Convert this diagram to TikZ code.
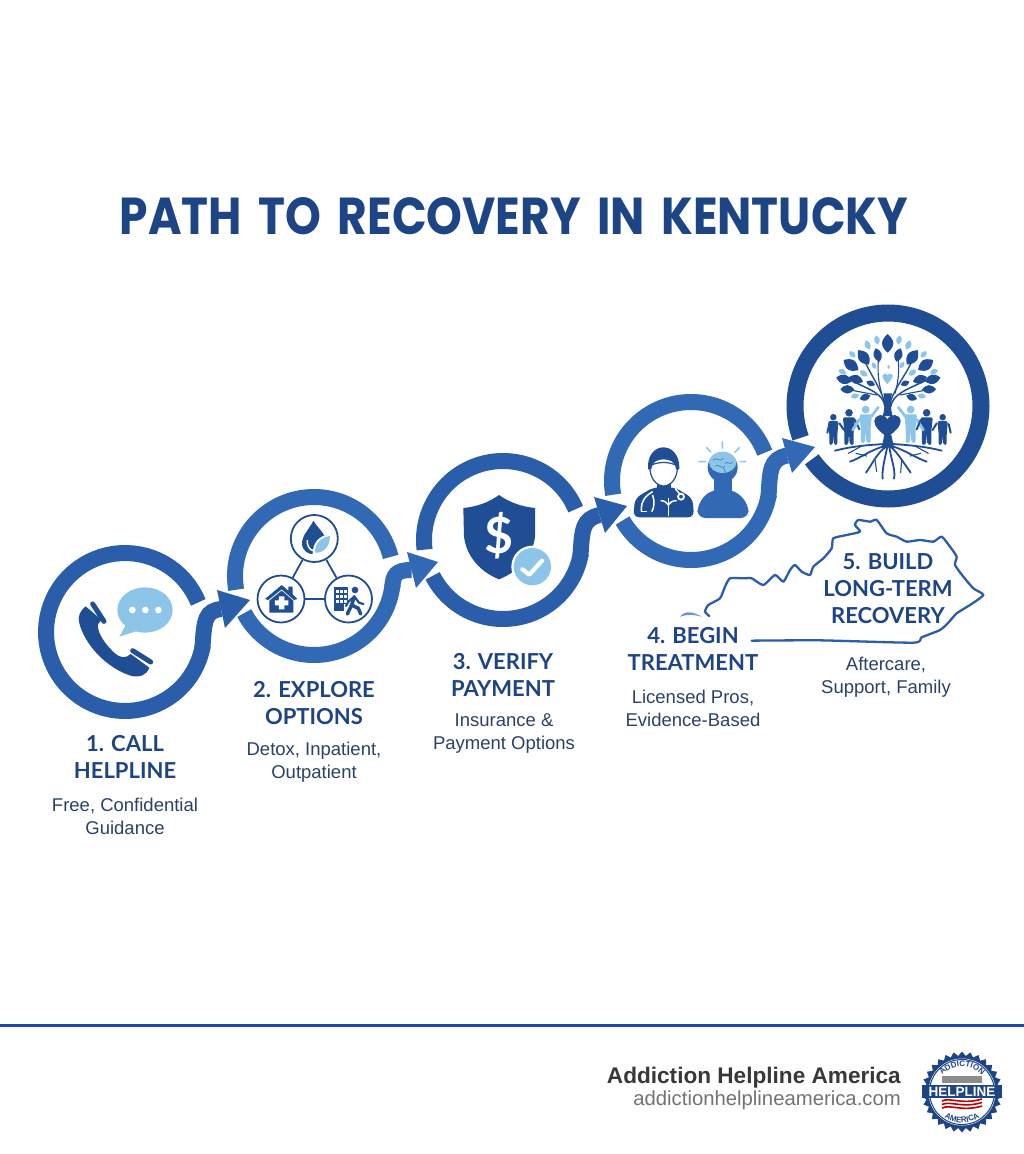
\documentclass[tikz,border=0pt]{standalone}
\usepackage{fontspec}
\usepackage{graphicx}
\usetikzlibrary{calc,shapes.geometric,decorations.text}
\setmainfont{Lato}
\newfontfamily\footfont{Liberation Sans}
\newfontfamily\titlefont{Poppins}[WordSpace=1.7]
\definecolor{navy}{HTML}{1D4485}
\definecolor{deep}{HTML}{1F4E94}
\definecolor{midb}{HTML}{2A5EAB}
\definecolor{liteb}{HTML}{3269B5}
\definecolor{sky}{HTML}{8DC5E9}
\definecolor{subc}{HTML}{2A4268}
\definecolor{rule}{HTML}{2148A8}
\tikzset{
  ringline/.style={line width=16pt,line cap=butt},
  anchorc/.style={circle,inner sep=0pt,draw=none},
  heading/.style={font=\fontsize{22}{27}\selectfont\bfseries,text=navy,align=center,inner sep=0pt},
  subtext/.style={font=\fontsize{18.5}{23}\selectfont\footfont,text=subc,align=center,inner sep=0pt},
  minic/.style={circle,draw=deep,line width=1.8pt,fill=white,minimum size=47pt,inner sep=0pt},
  minil/.style={draw=deep,line width=1.8pt},
  zoomed/.style={x=.33333pt,y=-.33333pt}
}
\newcommand\arcring[6]{\draw[ringline,#1] plot[domain=#5:#6,samples=70,variable=\t] ({#2+#4*cos(\t)},{#3-#4*sin(\t)});}
\newcommand\stepshaft[8]{%
  \coordinate (#2tip) at (#3);\coordinate (#2a) at (#4);\coordinate (#2b) at (#5);
  \draw[ringline,#1] (#6) .. controls (#7) and (#8) .. ($(#2a)!.5!(#2b)$);
  \fill[#1] (#2tip) -- (#2a) -- (#2b) -- cycle;}
\newcommand\leafm[4]{%
  \pgfmathsetmacro\la{atan2(300-#2,#1-353)}%
  \fill[#3,shift={(#1,#2)},rotate=\la] (-#4,0) .. controls (-.3*#4,.8*#4) and (.3*#4,.8*#4) .. (#4,0) .. controls (.3*#4,-.8*#4) and (-.3*#4,-.8*#4) .. cycle;}
\newcommand\personm[4]{% x top h colour
  \pgfmathsetmacro\hh{#3}%
  \fill[#4] (#1,#2+.105*\hh) circle[radius=.105*\hh];
  \fill[#4,rounded corners=2pt] (#1-.17*\hh,#2+.23*\hh) -- (#1+.17*\hh,#2+.23*\hh) -- (#1+.13*\hh,#2+.62*\hh) -- (#1+.13*\hh,#2+\hh) -- (#1+.02*\hh,#2+\hh) -- (#1,#2+.66*\hh) -- (#1-.02*\hh,#2+\hh) -- (#1-.13*\hh,#2+\hh) -- (#1-.13*\hh,#2+.62*\hh) -- cycle;}
\begin{document}
\begin{tikzpicture}[x=1pt,y=-1pt]
\useasboundingbox (0,0) rectangle (1024,1154);
\fill[white] (0,0) rectangle (1024,1154);

% title
\node[text=navy,inner sep=0pt] (title) at (514,216) {\resizebox{788pt}{37pt}{\titlefont\bfseries PATH TO RECOVERY IN KENTUCKY}};

% ring anchors
\node[anchorc,minimum size=158pt] (c1) at (125,632) {};
\node[anchorc,minimum size=158pt] (c2) at (314,576) {};
\node[anchorc,minimum size=158pt] (c3) at (503,540) {};
\node[anchorc,minimum size=158pt] (c4) at (691,481) {};
\node[anchorc,minimum size=186pt] (c5) at (888,406) {};

% rings
\arcring{midb}{125}{632}{79}{22}{350}
\arcring{liteb}{314}{576}{79}{14}{190}
\arcring{liteb}{314}{576}{79}{208}{354}
\arcring{midb}{503}{540}{79}{23}{187}
\arcring{midb}{503}{540}{79}{207}{350}
\arcring{liteb}{691}{481}{79}{21}{190}
\arcring{liteb}{691}{481}{79}{210}{350}
\draw[line width=17pt,deep] plot[domain=215:560,samples=120,variable=\t] ({888+93*cos(\t)},{406-93*sin(\t)});

% arrows between rings
\stepshaft{midb}{h1}{250,600}{217,590}{225,628}{c1.-12}{204,618}{206,611}
\stepshaft{liteb}{h2}{438,562}{407,552}{416,588}{c2.-8}{393,575}{396,570}
\stepshaft{midb}{h3}{627,506}{594,497}{605,533}{c3.-12}{582,528}{583,519}
\stepshaft{liteb}{h4}{815,447}{782,438}{792,473}{c4.-12}{770,470}{770,459}

% ICON 1: phone and bubble
\begin{scope}[shift={(20,480)},zoomed]
  \fill[deep] (197,379) .. controls (180,392) and (172,410) .. (178,430) .. controls (195,495) and (260,565) .. (335,588) .. controls (360,593) and (380,585) .. (388,563) -- (332,522) .. controls (318,536) and (300,534) .. (285,520) .. controls (262,500) and (240,470) .. (235,448) .. controls (230,432) and (238,425) .. (245,420) -- cycle;
  \draw[deep,line width=5pt,line cap=round] (218,372) -- (252,424);
  \draw[deep,line width=5pt,line cap=round] (338,512) -- (392,546);
  \fill[sky] (375,390) ellipse[x radius=83,y radius=68];
  \fill[sky] (320,430) -- (298,470) -- (360,450) -- cycle;
  \fill[white] (337,390) circle[radius=10] (376,390) circle[radius=10] (415,390) circle[radius=10];
\end{scope}

% ICON 2: three options
\node[minic] (m1) at (314.3,538.5) {};
\node[minic] (m2) at (281,599) {};
\node[minic] (m3) at (348.5,599) {};
\draw[minil] (m1) -- (m2);
\draw[minil] (m1) -- (m3);
\draw[minil] (m2) -- (m3);
\begin{scope}[shift={(20,480)},zoomed]
  % droplet and leaf
  \fill[deep] (880,122) .. controls (870,145) and (846,165) .. (846,190) .. controls (846,212) and (865,225) .. (885,222) .. controls (905,215) and (918,190) .. (915,170) .. controls (905,150) and (890,140) .. (880,122) -- cycle;
  \draw[white,line width=1.5pt] (862,180) .. controls (860,195) and (868,210) .. (880,212);
  \fill[white] (878,222) .. controls (878,190) and (895,165) .. (935,162) .. controls (938,195) and (918,225) .. (878,222) -- cycle;
  \fill[sky] (885,218) .. controls (885,192) and (900,172) .. (930,168) .. controls (930,195) and (915,220) .. (885,218) -- cycle;
  % house
  \fill[deep] (735,357) -- (785,315) -- (805,332) -- (805,320) -- (818,320) -- (818,343) -- (832,357) -- (822,360) -- (785,328) -- (745,360) -- cycle;
  \fill[deep] (748,362) -- (785,332) -- (820,362) -- (820,398) -- (748,398) -- cycle;
  \fill[white] (777,349) rectangle (793,388) (765,361) rectangle (805,376);
  % building and walker
  \fill[deep] (942,322) rectangle (985,392);
  \foreach \px in {949,961,973}{\foreach \py in {330,345,360}{\fill[white] (\px,\py) rectangle (\px+7,\py+9);}}
  \fill[white] (972,372) rectangle (990,394);
  \fill[deep] (1005,330) circle[radius=10];
  \draw[deep,line width=3.5pt,line cap=round,line join=round] (1003,350) -- (995,375) -- (982,402);
  \draw[deep,line width=3.5pt,line cap=round,line join=round] (995,375) -- (1015,385) -- (1022,402);
  \draw[deep,line width=2.2pt,line cap=round,line join=round] (1003,350) -- (985,365) -- (978,378);
  \draw[deep,line width=2.2pt,line cap=round,line join=round] (1005,352) -- (1017,368) -- (1030,372);
\end{scope}

% ICON 3: shield
\begin{scope}[shift={(400,380)},zoomed]
  \fill[deep] (297,345) .. controls (265,368) and (230,380) .. (190,384) -- (192,470) .. controls (200,530) and (240,575) .. (297,598) .. controls (355,575) and (398,530) .. (405,470) -- (405,384) .. controls (365,380) and (330,368) .. (297,345) -- cycle;
  \node[text=white,font=\fontsize{50}{50}\selectfont\bfseries,inner sep=0pt] (dollar) at (297,466) {\$};
  \fill[white] (397,560) circle[radius=63];
  \fill[sky] (397,560) circle[radius=56];
  \draw[white,line width=4.2pt,line cap=round,line join=round] (367,568) -- (388,584) -- (426,542);
\end{scope}

% ICON 4: doctor and patient
\begin{scope}[shift={(400,380)},zoomed]
  \fill[deep,rounded corners=6pt] (700,412) -- (705,355) -- (760,322) -- (825,322) -- (878,355) -- (882,412) -- cycle;
  \fill[deep] (770,295) rectangle (812,335);
  \draw[deep,line width=1.2pt,fill=white] (750,258) .. controls (770,244) and (812,244) .. (832,258) .. controls (834,292) and (814,318) .. (791,318) .. controls (768,318) and (748,292) .. (750,258) -- cycle;
  \fill[deep] (744,268) .. controls (738,180) and (842,180) .. (838,268) -- (828,268) .. controls (826,245) and (810,238) .. (791,238) .. controls (772,238) and (756,245) .. (754,268) -- cycle;
  \draw[white,line width=1.5pt] (758,335) .. controls (740,345) and (722,360) .. (724,395);
  \draw[white,line width=1.5pt] (724,395) -- (740,395);
  \draw[white,line width=1.5pt] (758,345) .. controls (765,365) and (762,385) .. (755,395);
  \draw[white,line width=1.5pt] (825,325) -- (842,345);
  \draw[white,line width=1.8pt,fill=deep] (843,350) circle[radius=9];
  \draw[white,line width=1pt] (805,355) -- (805,408);
  \draw[white,line width=1.5pt] (782,362) .. controls (795,362) and (800,368) .. (805,375) .. controls (810,368) and (815,362) .. (830,362);
  \fill[liteb,rounded corners=8pt] (892,414) -- (893,372) -- (930,330) -- (1005,330) -- (1045,372) -- (1046,414) -- cycle;
  \fill[liteb] (968,262) circle[radius=45];
  \fill[liteb] (942,290) rectangle (995,345);
  \fill[sky] (968,247) ellipse[x radius=41,y radius=32];
  \draw[liteb!70!sky,line width=.8pt,line cap=round] (940,240) .. controls (950,228) and (960,250) .. (970,235) (975,250) .. controls (985,240) and (990,260) .. (998,245) (945,258) .. controls (955,250) and (965,268) .. (975,260) (970,262) -- (978,280);
  \draw[sky,line width=1.6pt,line cap=round] (920,203) -- (932,216) (967,185) -- (967,205) (1018,203) -- (1005,217) (897,245) -- (917,245) (1020,245) -- (1037,245);
\end{scope}

% ICON 5: tree, people, roots
\begin{scope}[shift={(770,290)},zoomed]
  \draw[deep,line width=1.5pt,line cap=round] (345,350) .. controls (340,310) and (300,300) .. (245,272);
  \draw[deep,line width=1.4pt,line cap=round] (345,340) .. controls (330,290) and (305,260) .. (285,215);
  \draw[deep,line width=1.4pt,line cap=round] (360,340) .. controls (375,290) and (405,260) .. (425,215);
  \draw[deep,line width=1.5pt,line cap=round] (362,350) .. controls (370,310) and (410,300) .. (465,272);
  \draw[deep,line width=1.1pt,line cap=round] (335,310) .. controls (320,260) and (325,225) .. (325,205);
  \draw[deep,line width=1.1pt,line cap=round] (375,310) .. controls (390,260) and (385,225) .. (385,205);
  \draw[deep,line width=1.1pt,line cap=round] (320,315) -- (230,298);
  \draw[deep,line width=1.1pt,line cap=round] (390,315) -- (480,298);
  \fill[deep] (340,310) .. controls (345,335) and (345,355) .. (338,378) -- (368,378) .. controls (361,355) and (361,335) .. (366,310) -- cycle;
  \foreach \lx/\ly/\ls in {353/160/28,323/195/21,385/195/21,281/202/27,427/202/27,243/225/27,467/225/27,222/268/24,488/268/24,258/268/22,450/268/22,232/298/21,477/298/21,285/322/17,425/322/17,302/280/14,405/280/14}{\leafm{\lx}{\ly}{deep}{\ls}}
  \foreach \lx/\ly/\ls in {293/165/15,321/150/14,387/150/14,415/165/15,247/193/13,461/193/13,217/245/13,492/245/13,281/250/14,427/248/14,312/227/11,396/225/11,255/318/13,455/318/13}{\leafm{\lx}{\ly}{sky}{\ls}}
  \fill[sky] (352,282) .. controls (342,272) and (335,262) .. (338,255) .. controls (342,248) and (350,250) .. (352,255) .. controls (356,250) and (364,248) .. (368,255) .. controls (370,262) and (362,272) .. (352,282) -- cycle;
  \fill[sky] (356,238) .. controls (351,232) and (350,226) .. (356,225) .. controls (362,226) and (361,232) .. (356,238) -- cycle;
  % heart
  \fill[deep] (352,442) .. controls (330,425) and (312,410) .. (313,393) .. controls (316,372) and (342,368) .. (352,388) .. controls (362,368) and (390,372) .. (392,393) .. controls (392,410) and (374,425) .. (352,442) -- cycle;
  % people
  \personm{190}{372}{93}{deep}
  \personm{237}{357}{108}{deep}
  \personm{287}{347}{112}{sky}
  \personm{422}{347}{112}{sky}
  \personm{470}{357}{108}{deep}
  \personm{518}{372}{93}{deep}
  \draw[deep,line width=2pt,line cap=round] (172,428) -- (178,402) (208,400) -- (222,420);
  \draw[deep,line width=2pt,line cap=round] (255,390) -- (268,418);
  \draw[sky,line width=2.8pt,line cap=round] (268,388) -- (248,420);
  \draw[sky,line width=2.8pt,line cap=round] (305,378) -- (325,352);
  \draw[sky,line width=2.8pt,line cap=round] (405,378) -- (385,352);
  \draw[sky,line width=2.8pt,line cap=round] (440,388) -- (460,420);
  \draw[deep,line width=2pt,line cap=round] (452,390) -- (440,418);
  \draw[deep,line width=2pt,line cap=round] (500,400) -- (488,420) (536,402) -- (542,428);
  % roots
  \fill[deep] (343,435) -- (364,435) -- (372,472) -- (335,472) -- cycle;
  \draw[deep,line width=1.8pt,line cap=round]
    (345,462) .. controls (290,465) and (240,470) .. (195,482)
    (345,468) .. controls (300,480) and (270,505) .. (240,515)
    (348,470) .. controls (320,490) and (305,525) .. (288,548)
    (352,470) .. controls (345,505) and (335,540) .. (338,566)
    (358,470) .. controls (362,505) and (378,540) .. (372,566)
    (362,470) .. controls (385,490) and (405,525) .. (422,548)
    (365,468) .. controls (405,480) and (440,505) .. (470,515)
    (368,462) .. controls (415,465) and (470,470) .. (515,482);
  \draw[deep,line width=1.1pt,line cap=round]
    (290,498) -- (258,490) (315,510) -- (320,545) (395,510) -- (392,548) (420,498) -- (452,490) (275,468) -- (235,490) (435,468) -- (475,490);
\end{scope}

% Kentucky outline
\begin{scope}[shift={(620,500)},zoomed]
  \draw[midb,line width=2.3pt,line join=round,line cap=round] plot[smooth,tension=.35] coordinates {(395,422) (600,421) (880,428) (905,412) (960,390) (985,368) (1010,340) (1050,315) (1090,285) (1060,265) (1030,230) (1005,195) (1010,170) (990,140) (965,110) (940,125) (900,120) (860,125) (830,110) (800,100) (770,60) (750,65) (715,60) (705,75) (720,95) (680,105) (640,115) (635,145) (610,175) (580,200) (570,225) (545,215) (525,195) (510,210) (490,245) (465,225) (430,255) (395,235) (370,235) (330,235) (315,260) (300,295) (265,315) (255,335) (268,348)};
  \fill[liteb!70] (180,350) .. controls (195,330) and (220,335) .. (245,350) .. controls (220,343) and (200,343) .. (180,350) -- cycle;
\end{scope}

% labels
\node[heading] (l1) at (125,756.5) {1. CALL\\HELPLINE};
\node[subtext] (s1) at (125,816.5) {Free, Confidential\\Guidance};
\node[heading] (l2) at (314,703.5) {2. EXPLORE\\OPTIONS};
\node[subtext] (s2) at (314,762.5) {Detox, Inpatient,\\Outpatient};
\node[heading] (l3) at (503,674.5) {3. VERIFY\\PAYMENT};
\node[subtext] (s3) at (504,733.5) {Insurance \&\\Payment Options};
\node[heading] (l4) at (693,648.5) {4. BEGIN\\TREATMENT};
\node[subtext] (s4) at (693,708.5) {Licensed Pros,\\Evidence-Based};
\node[heading] (l5) at (888,588.5) {5. BUILD\\LONG-TERM\\RECOVERY};
\node[subtext] (s5) at (886,677.5) {Aftercare,\\Support, Family};

% footer
\coordinate (fl) at (0,1025);
\coordinate (fr) at (1024,1025);
\draw[line width=3pt,color=rule] (fl) -- (fr);
\node[anchor=east,font=\fontsize{22.6}{22.6}\selectfont\footfont\bfseries,text=black!78,inner sep=0pt] (brand) at (901,1078) {Addiction Helpline America};
\node[anchor=east,font=\fontsize{20.3}{20.3}\selectfont\footfont,text=black!55,inner sep=0pt] (site) at (901,1100) {addictionhelplineamerica.com};

% logo
\node[star,star points=30,star point ratio=1.12,fill=navy,minimum size=81pt,inner sep=0pt] (logo) at (962,1092) {};
\fill[white] (962,1092) circle[radius=33.5];
\draw[navy,line width=1pt] (962,1092) circle[radius=32.5];
\fill[black!45] (942,1076) rectangle (982,1083);
\foreach \dy in {0,3.5,7}{\draw[red!75!black,line width=1.6pt] (942,1101+\dy) .. controls (950,1097+\dy) and (962,1105+\dy) .. (982,1099+\dy);}
\fill[navy] (922,1085) rectangle (1002,1097.5);
\node[text=white,font=\fontsize{13.5}{13.5}\selectfont\footfont\bfseries,inner sep=0pt] (logotext) at (962,1091.5) {HELPLINE};
\path[decorate,decoration={text along path,text align=center,text={|\fontsize{8}{8}\footfont\bfseries\selectfont\color{navy}|ADDICTION}}] (937,1086) .. controls (942,1060) and (982,1060) .. (987,1086);
\path[decorate,decoration={text along path,text align=center,text={|\fontsize{8}{8}\footfont\bfseries\selectfont\color{navy}|AMERICA}}] (932,1100) .. controls (940,1130) and (984,1130) .. (992,1100);
\end{tikzpicture}
\end{document}
